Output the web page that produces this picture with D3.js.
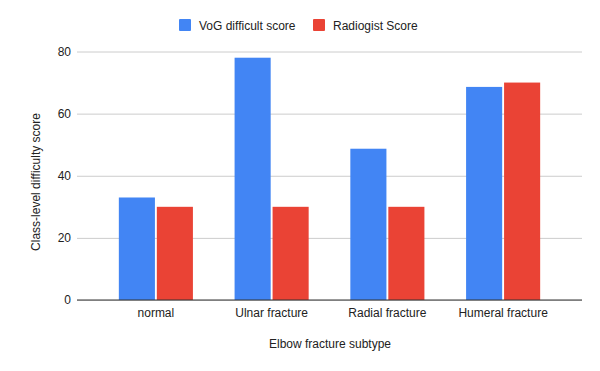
<!DOCTYPE html>
<html>
<head>
<meta charset="utf-8">
<script src="https://cdn.jsdelivr.net/npm/d3@7"></script>
<style>
  body { margin: 0; background: #fff; }
  text { font-family: Arial, "Liberation Sans", sans-serif; }
</style>
</head>
<body>
<script>
   // chart data
   let categories = ['normal', 'Ulnar fracture', 'Radial fracture', 'Humeral fracture'];
   let seriesNames = ['VoG difficult score', 'Radiogist Score'];
   let vogScores = [33, 78, 48.7, 68.6];
   let radiologistScores = [30, 30, 30, 70];
   let yTicks = [0, 20, 40, 60, 80];
   let colors = ['#4285f4', '#ea4335'];

   // canvas
   let width = 600;
   let height = 371;
   let plotLeft = 77;
   let plotRight = 582;
   let plotTop = 51.5;
   let plotBottom = 300;

   let svg = d3.select('body').append('svg')
      .attr('width', width)
      .attr('height', height);

   let rows = categories.map((c, i) => ({ category: c, values: [vogScores[i], radiologistScores[i]] }));

   let xScale = d3.scaleBand()
      .domain(categories)
      .range([98, 561])
      .paddingInner(0.36)
      .paddingOuter(0.18);
   let xSeries = d3.scaleBand()
      .domain(d3.range(seriesNames.length))
      .range([0, xScale.bandwidth()])
      .paddingInner(0.05);
   let yScale = d3.scaleLinear()
      .domain([0, 80])
      .range([plotBottom, plotTop]);

   // gridlines + y labels
   let yAxis = d3.axisLeft(yScale)
      .tickValues(yTicks)
      .tickSize(-(plotRight - plotLeft))
      .tickPadding(6);
   let yg = svg.append('g')
      .attr('transform', 'translate(' + plotLeft + ',0)')
      .call(yAxis);
   yg.select('.domain').remove();
   yg.selectAll('line').attr('stroke', '#cccccc');
   yg.selectAll('text')
      .attr('font-size', 12)
      .attr('fill', '#222');

   // bars
   svg.append('g').selectAll('g')
      .data(rows)
      .enter()
      .append('g')
      .attr('transform', (d) => 'translate(' + xScale(d.category) + ',0)')
      .selectAll('rect')
      .data((d) => d.values)
      .enter()
      .append('rect')
      .attr('x', (v, i) => xSeries(i))
      .attr('width', xSeries.bandwidth())
      .attr('y', (v) => yScale(v))
      .attr('height', (v) => plotBottom - yScale(v))
      .attr('fill', (v, i) => colors[i]);

   // baseline + x labels
   let xAxis = d3.axisBottom(xScale).tickSize(0).tickPadding(8);
   let xg = svg.append('g')
      .attr('transform', 'translate(0,' + plotBottom + ')')
      .call(xAxis);
   xg.select('.domain').remove();
   xg.selectAll('text').attr('font-size', 12).attr('fill', '#222');
   svg.append('line')
      .attr('x1', plotLeft).attr('x2', plotRight)
      .attr('y1', plotBottom).attr('y2', plotBottom)
      .attr('stroke', '#333').attr('stroke-width', 1);

   // axis titles
   svg.append('text')
      .attr('x', 330)
      .attr('y', 348)
      .attr('text-anchor', 'middle')
      .attr('font-size', 12)
      .attr('fill', '#222')
      .text('Elbow fracture subtype');
   svg.append('text')
      .attr('transform', 'translate(40,182) rotate(-90)')
      .attr('text-anchor', 'middle')
      .attr('font-size', 12)
      .attr('fill', '#222')
      .text('Class-level difficulty score');

   // legend
   let legendX = [179, 313];
   let legend = svg.append('g').selectAll('g')
      .data(seriesNames)
      .enter()
      .append('g')
      .attr('transform', (d, i) => 'translate(' + legendX[i] + ',19)');
   legend.append('rect')
      .attr('width', 12)
      .attr('height', 12)
      .attr('rx', 1)
      .attr('fill', (d, i) => colors[i]);
   legend.append('text')
      .attr('x', 20)
      .attr('y', 10.5)
      .attr('font-size', 12)
      .attr('fill', '#222')
      .text((d) => d);
</script>
</body>
</html>
